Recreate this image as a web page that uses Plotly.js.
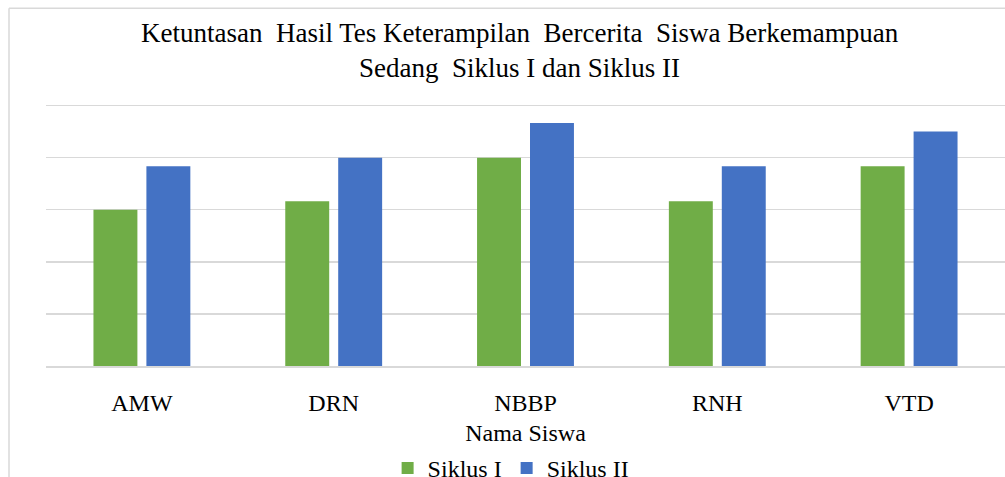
<!DOCTYPE html>
<html>
<head>
<meta charset="utf-8">
<script src="https://cdn.plot.ly/plotly-3.0.1.min.js"></script>
<style>html,body{margin:0;padding:0;background:#fff;overflow:hidden}#chart{width:1005px;height:477px}</style>
</head>
<body>
<div id="chart"></div>
<script>
var categories = ["AMW", "DRN", "NBBP", "RNH", "VTD"];
var siklus1 = [60, 63.3, 80, 63.3, 76.7];
var siklus2 = [76.7, 80, 93.3, 76.7, 90];
var seriesNames = ["Siklus I", "Siklus II"];
var titleText = "Ketuntasan\u00a0 Hasil Tes Keterampilan\u00a0 Bercerita\u00a0 Siswa Berkemampuan<br>Sedang\u00a0 Siklus I dan Siklus II";
var xTitle = "Nama Siswa";

var FONT = "Liberation Serif, Times New Roman, serif";
var traces = [
  {type: "bar", name: seriesNames[0], x: categories, y: siklus1,
   marker: {color: "#70AD47", line: {width: 0}}, hoverinfo: "none"},
  {type: "bar", name: seriesNames[1], x: categories, y: siklus2,
   marker: {color: "#4472C4", line: {width: 0}}, hoverinfo: "none"}
];
var yMax = 100.6;
var plotL = 46, plotR = 1005, plotB = 366;
var plotT = plotB - 260.3 * yMax / 100;
var pw = plotR - plotL, ph = plotB - plotT;
var layout = {
  width: 1005, height: 477,
  margin: {l: plotL, r: 1005 - plotR, t: plotT, b: 477 - plotB, pad: 0, autoexpand: false},
  paper_bgcolor: "#fff", plot_bgcolor: "#fff",
  font: {family: FONT, size: 24, color: "#000"},
  title: {text: titleText, x: 0.517, xanchor: "center", yref: "container", y: 1 - 42 / 477, yanchor: "top",
          font: {family: FONT, size: 27, color: "#000"}},
  barmode: "group", bargap: 0.448, bargroupgap: 0.17,
  xaxis: {showgrid: false, showline: true, linecolor: "#d9d9d9", linewidth: 1.5, automargin: false,
          ticks: "", ticklabelstandoff: 15, tickfont: {family: FONT, size: 24, color: "#000"},
          title: {text: xTitle, font: {family: FONT, size: 24, color: "#000"}, standoff: 13}},
  yaxis: {range: [0, yMax], tick0: 0, dtick: 20, showgrid: true, gridcolor: "#d9d9d9", gridwidth: 1.5,
          showticklabels: false, zeroline: false, showline: false, ticks: "", automargin: false},
  showlegend: true,
  legend: {orientation: "h", x: 0.485, xanchor: "center", yref: "container", y: (477 - 446) / 477, yanchor: "top",
           font: {family: FONT, size: 24, color: "#000"}, itemwidth: 30, tracegroupgap: 0},
  shapes: [
    {type: "line", xref: "paper", yref: "paper", x0: (9 - plotL) / pw, x1: (9 - plotL) / pw,
     y0: (plotB - 490) / ph, y1: (plotB - 8.5) / ph, line: {color: "#d9d9d9", width: 1.5}, layer: "below"},
    {type: "line", xref: "paper", yref: "paper", x0: (9 - plotL) / pw, x1: 1.01,
     y0: (plotB - 8.5) / ph, y1: (plotB - 8.5) / ph, line: {color: "#d9d9d9", width: 1.5}, layer: "below"}
  ]
};
Plotly.newPlot("chart", traces, layout, {staticPlot: true, displayModeBar: false});
</script>
</body>
</html>
